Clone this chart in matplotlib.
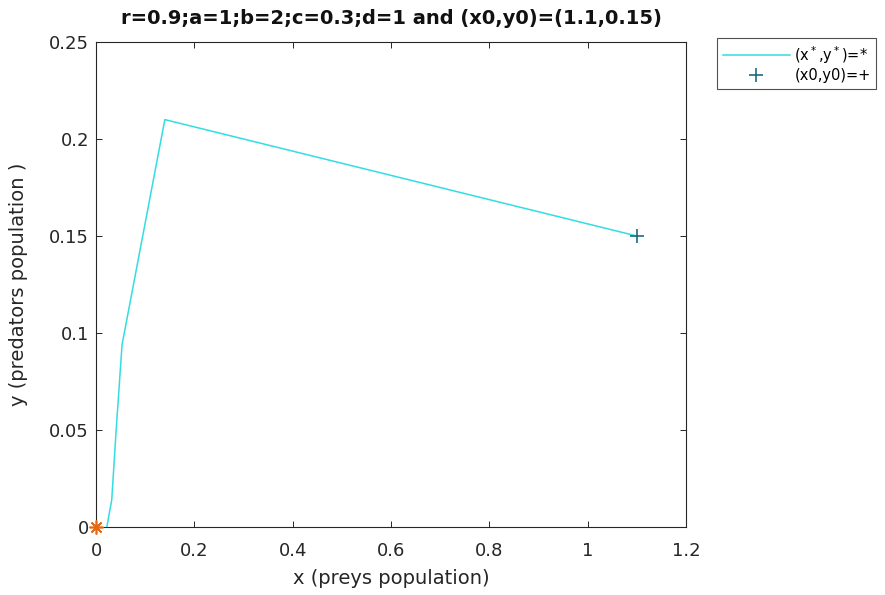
import matplotlib
matplotlib.use("Agg")
import matplotlib.pyplot as plt

# trajectory
traj_x = [1.1, 0.14, 0.053, 0.041, 0.032, 0.022]
traj_y = [0.15, 0.21, 0.094, 0.050, 0.014, 0.0]
start = (1.1, 0.15)
equilibrium = (0.0, 0.0)
xticks = [0, 0.2, 0.4, 0.6, 0.8, 1, 1.2]
xtick_labels = ["0", "0.2", "0.4", "0.6", "0.8", "1", "1.2"]
yticks = [0, 0.05, 0.1, 0.15, 0.2, 0.25]
ytick_labels = ["0", "0.05", "0.1", "0.15", "0.2", "0.25"]

plt.rcParams['font.family'] = ['DejaVu Sans']
plt.rcParams['mathtext.fontset'] = 'dejavusans'

fig = plt.figure(figsize=(8.85, 5.95), dpi=100)
ax = fig.add_axes([96/885, 1-527/595, (686-96)/885, (527-42)/595])

ax.plot(traj_x, traj_y, color='#33dde0', lw=1.1, label=r'(x$^*$,y$^*$)=*')
ax.plot([start[0]], [start[1]], linestyle='none', marker='+', markersize=10,
        mew=1.2, color='#1f6a80', label='(x0,y0)=+')
ax.plot([equilibrium[0]], [equilibrium[1]], linestyle='none', marker=(8, 2, 0),
        markersize=10, mew=1.2, color='#e06a1a', clip_on=False, zorder=5)

ax.set_xlim(0, 1.2)
ax.set_ylim(0, 0.25)
ax.set_xticks(xticks)
ax.set_xticklabels(xtick_labels)
ax.set_yticks(yticks)
ax.set_yticklabels(ytick_labels)
ax.tick_params(direction='in', top=True, right=True, labelsize=13,
               colors='#262626', length=4, width=0.7)
ax.tick_params(axis='x', pad=11)
ax.tick_params(axis='y', pad=5)
for s in ax.spines.values():
    s.set_color('#262626')
    s.set_linewidth(0.8)

ax.set_xlabel('x (preys population)', fontsize=14, color='#262626')
ax.set_ylabel('y (predators population )', fontsize=14, color='#262626')
ax.xaxis.set_label_coords(0.5, (527-578)/485)
ax.yaxis.set_label_coords((18-96)/590, 0.5)
ax.xaxis.label.set_va('center')
ax.yaxis.label.set_va('center')
ax.set_title('r=0.9;a=1;b=2;c=0.3;d=1 and (x0,y0)=(1.1,0.15)', fontsize=14,
             fontweight='bold', color='#111111', y=1+(42-19)/485, va='center',
             pad=0)

leg = fig.legend(loc='upper left', bbox_to_anchor=(717/885, 1-38/595),
                 fontsize=10.5, frameon=True, fancybox=False, edgecolor='#262626',
                 handlelength=4.6, handletextpad=0.3, borderpad=0.4,
                 labelspacing=0.2, borderaxespad=0)
leg.get_frame().set_linewidth(0.8)

fig.savefig('out.png', dpi=100)
